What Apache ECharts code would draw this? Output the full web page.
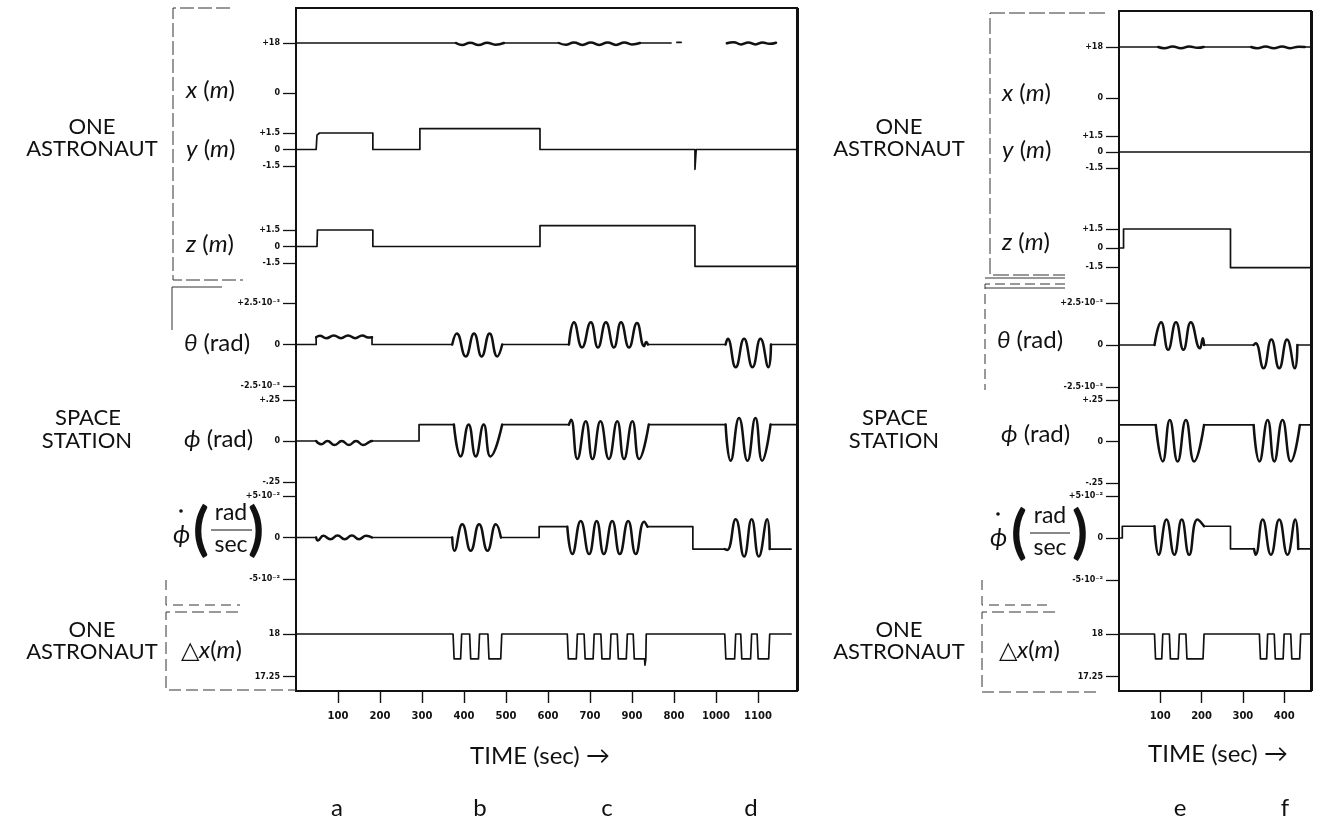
<!DOCTYPE html>
<html>
<head>
<meta charset="utf-8">
<title>Astronaut translation and space station response</title>
<script src="https://cdn.jsdelivr.net/npm/echarts@6.0.0/dist/echarts.min.js"></script>
<style>
  html, body { margin: 0; background: #fff; }
  #chart { width: 1328px; height: 828px; }
</style>
</head>
<body>
<div id="chart"></div>
<script>
// ---- time axes -------------------------------------------------------
const tMaxA = 1193;
const tMaxB = 465;
const xTicksA = [100, 200, 300, 400, 500, 600, 700, 800, 900, 1000, 1100];
const xTickLabelsA = ['100', '200', '300', '400', '500', '600', '700', '900', '800', '1000', '1100']; // as printed
const xTicksB = [100, 200, 300, 400];
const xTickLabelsB = ['100', '200', '300', '400'];

// ---- y tick values / labels (theta in 1e-3 rad, phi-dot in 1e-2 rad/s) ----
const posXTicks = [0, 18];            const posXLabels = ['0', '+18'];
const posYTicks = [-1.5, 0, 1.5];     const posYLabels = ['-1.5', '0', '+1.5'];
const posZTicks = [-1.5, 0, 1.5];     const posZLabels = ['-1.5', '0', '+1.5'];
const thetaTicks = [-2.5, 0, 2.5];    const thetaLabels = ['-2.5·10⁻³', '0', '+2.5·10⁻³'];
const phiTicks = [-0.25, 0, 0.25];    const phiLabels = ['-.25', '0', '+.25'];
const phiDotTicks = [-5, 0, 5];       const phiDotLabels = ['-5·10⁻²', '0', '+5·10⁻²'];
const dxTicks = [17.25, 18];          const dxLabels = ['17.25', '18'];

// ---- panel a-d : [time s, value] pieces; *Wave pieces are drawn smooth ----
const posXA = [[[0, 18], [381, 18]], [[495, 18], [626, 18]], [[819, 18], [893, 18]], [[907, 18.2], [917, 18.2]]];
const posXAWave = [
  [[381, 18], [395, 17.3], [415, 18.1], [435, 17.3], [455, 18.1], [475, 17.4], [495, 18]],
  [[626, 18], [642, 17.4], [662, 18.2], [682, 17.3], [702, 18.2], [722, 17.3], [742, 18.2], [762, 17.3], [782, 18.2], [800, 17.5], [819, 18]],
  [[1026, 17.9], [1042, 18.3], [1060, 17.5], [1077, 18.2], [1094, 17.5], [1111, 18.2], [1127, 17.7], [1143, 18.1]]
];
const posYA = [[[0, 0], [48, 0], [50, 1.3], [56, 1.5], [183, 1.5], [183, 0], [295, 0], [295, 1.9], [581, 1.9], [581, 0],
  [950, 0], [950, -1.8], [953, -1.8], [953, 0], [1193, 0]]];
const posZA = [[[0, 0], [50, 0], [51, 1.5], [183, 1.5], [183, 0], [581, 0], [581, 1.9], [950, 1.9], [950, -1.8], [1193, -1.8]]];

const thetaA = [[[0, 0], [48, 0], [48, 0.44]], [[181, 0.44], [181, 0], [372, 0]], [[491, 0], [650, 0]], [[838, 0], [1023, 0]], [[1131, 0], [1193, 0]]];
const thetaAWave = [
  [[48, 0.44], [57, 0.52], [72, 0.38], [90, 0.54], [107, 0.38], [124, 0.54], [141, 0.38], [158, 0.54], [172, 0.42], [181, 0.44]],
  [[372, 0], [383, 0.66], [404, -0.72], [424, 0.66], [442, -0.72], [461, 0.66], [479, -0.72], [491, 0]],
  [[650, 0], [662, 1.34], [681, -0.18], [702, 1.34], [719, -0.18], [738, 1.34], [757, -0.18], [774, 1.34], [793, -0.18], [812, 1.3], [829, -0.1], [834, 0.15], [838, 0]],
  [[1023, 0], [1028, 0.34], [1047, -1.37], [1067, 0.34], [1087, -1.37], [1106, 0.34], [1125, -1.37], [1131, 0]]
];

const phiA = [[[0, 0], [48, 0]], [[181, 0], [293, 0], [293, 0.1], [376, 0.1]], [[491, 0.1], [650, 0.1]], [[840, 0.1], [1023, 0.1]], [[1130, 0.1], [1193, 0.1]]];
const phiAWave = [
  [[48, 0], [60, -0.02], [75, 0], [92, -0.025], [109, 0], [126, -0.025], [143, 0], [160, -0.025], [175, -0.005], [181, 0]],
  [[376, 0.1], [392, -0.094], [411, 0.1], [428, -0.094], [447, 0.1], [463, -0.094], [491, 0.1]],
  [[650, 0.1], [655, 0.13], [670, -0.11], [690, 0.12], [706, -0.11], [725, 0.12], [745, -0.11], [765, 0.12], [781, -0.11], [801, 0.12], [817, -0.11], [840, 0.1]],
  [[1023, 0.1], [1035, -0.12], [1055, 0.14], [1075, -0.12], [1094, 0.14], [1110, -0.12], [1130, 0.1]]
];

const phiDotA = [[[0, 0], [48, 0]], [[181, 0], [372, 0]], [[488, 0], [579, 0], [579, 1.3], [646, 1.3]],
  [[837, 1.3], [945, 1.3], [945, -1.4], [1021, -1.4]], [[1128, -1.4], [1179, -1.4]]];
const phiDotAWave = [
  [[48, 0], [52, -0.35], [65, 0.2], [82, -0.2], [99, 0.25], [116, -0.2], [133, 0.25], [150, -0.2], [167, 0.2], [181, 0]],
  [[372, 0], [377, -1.6], [396, 1.6], [416, -1.6], [436, 1.6], [456, -1.6], [476, 1.6], [488, 0]],
  [[646, 1.3], [658, -2.0], [678, 2.0], [698, -2.0], [716, 2.0], [733, -2.0], [753, 2.0], [771, -2.0], [791, 2.0], [809, -2.0], [829, 1.9], [837, 1.3]],
  [[1021, -1.4], [1027, -1.5], [1047, 2.2], [1067, -2.3], [1085, 2.2], [1102, -2.3], [1122, 2.2], [1128, -1.4]]
];

const dxA = [[[0, 18], [374, 18], [376.5, 17.56], [392, 17.56], [394.5, 18], [413.5, 18], [416, 17.56], [434.5, 17.56], [437, 18],
  [457, 18], [459.5, 17.56], [487.5, 17.56], [490, 18], [646, 18], [648.5, 17.56], [667.5, 17.56], [670, 18],
  [686, 18], [688.5, 17.56], [707.5, 17.56], [710, 18], [726, 18], [728.5, 17.56], [747.5, 17.56], [750, 18],
  [765, 18], [767.5, 17.56], [786.5, 17.56], [789, 18], [803, 18], [805.5, 17.56], [830, 17.56], [831, 17.45], [833, 17.56], [834, 18],
  [1021, 18], [1023.5, 17.56], [1044.5, 17.56], [1047, 18], [1059, 18], [1061.5, 17.56], [1082.5, 17.56], [1085, 18],
  [1098, 18], [1100.5, 17.56], [1125.5, 17.56], [1128, 18], [1179, 18]]];

// ---- panel e-f ---------------------------------------------------------
const posXB = [[[0, 18], [95, 18]], [[205, 18], [320, 18]], [[450, 18], [465, 18]]];
const posXBWave = [
  [[95, 18], [110, 17.6], [130, 18.2], [150, 17.6], [170, 18.2], [190, 17.7], [205, 18]],
  [[320, 18], [335, 17.6], [355, 18.2], [375, 17.6], [395, 18.2], [415, 17.6], [435, 18.1], [450, 18]]
];
const posYB = [[[0, 0], [465, 0]]];
const posZB = [[[0, 0], [11, 0], [11, 1.5], [270, 1.5], [270, -1.55], [465, -1.55]]];

const thetaB = [[[0, 0], [86, 0]], [[206, 0], [326, 0]], [[432, 0], [465, 0]]];
const thetaBWave = [
  [[86, 0], [102, 1.36], [119, -0.28], [138, 1.36], [156, -0.28], [174, 1.36], [196, -0.2], [203, 0.4], [206, 0]],
  [[326, 0], [331, 0.1], [350, -1.39], [369, 0.32], [388, -1.39], [407, 0.32], [426, -1.39], [432, 0]]
];
const phiB = [[[0, 0.1], [89, 0.1]], [[206, 0.1], [326, 0.1]], [[438, 0.1], [465, 0.1]]];
const phiBWave = [
  [[89, 0.1], [106, -0.12], [123, 0.13], [142, -0.12], [162, 0.13], [182, -0.12], [206, 0.1]],
  [[326, 0.1], [340, -0.12], [360, 0.13], [376, -0.12], [396, 0.13], [416, -0.12], [438, 0.1]]
];
const phiDotB = [[[0, 0], [8, 0], [8, 1.4], [86, 1.4]], [[206, 1.4], [270, 1.4], [270, -1.3], [327, -1.3]], [[434, -1.3], [465, -1.3]]];
const phiDotBWave = [
  [[86, 1.4], [96, -2.0], [115, 2.2], [134, -2.0], [152, 2.2], [170, -2.0], [190, 2.2], [206, 1.4]],
  [[327, -1.3], [331, -2.0], [348, 2.2], [368, -2.0], [388, 2.2], [408, -2.0], [427, 2.2], [434, -1.3]]
];
const dxB = [[[0, 18], [86, 18], [88.5, 17.56], [103.5, 17.56], [106, 18], [122, 18], [124.5, 17.56], [143.5, 17.56], [146, 18],
  [162, 18], [164.5, 17.56], [203.5, 17.56], [206, 18], [340, 18], [342.5, 17.56], [357.5, 17.56], [360, 18],
  [376, 18], [378.5, 17.56], [397.5, 17.56], [400, 18], [416, 18], [418.5, 17.56], [437.5, 17.56], [440, 18], [465, 18]]];

// ---- layout ----------------------------------------------------------
const ink = '#111';
const labelFont = 'Lato, "Noto Sans", sans-serif';
const tickFont = '"DejaVu Sans", sans-serif';

const panels = [
  {
    frame: { left: 296, top: 8, width: 501, height: 683 }, tMax: tMaxA, xTicks: xTicksA, xLabels: xTickLabelsA,
    rows: [
      { top: 43, height: 50, ticks: posXTicks, labels: posXLabels, flat: posXA, wave: posXAWave },
      { top: 133, height: 33, ticks: posYTicks, labels: posYLabels, flat: posYA },
      { top: 230, height: 33, ticks: posZTicks, labels: posZLabels, flat: posZA },
      { top: 303, height: 83, ticks: thetaTicks, labels: thetaLabels, flat: thetaA, wave: thetaAWave },
      { top: 400, height: 82, ticks: phiTicks, labels: phiLabels, flat: phiA, wave: phiAWave },
      { top: 496, height: 83, ticks: phiDotTicks, labels: phiDotLabels, flat: phiDotA, wave: phiDotAWave },
      { top: 634, height: 42.5, ticks: dxTicks, labels: dxLabels, flat: dxA }
    ]
  },
  {
    frame: { left: 1119, top: 11, width: 192, height: 680 }, tMax: tMaxB, xTicks: xTicksB, xLabels: xTickLabelsB,
    rows: [
      { top: 47, height: 51, ticks: posXTicks, labels: posXLabels, flat: posXB, wave: posXBWave },
      { top: 136, height: 32, ticks: posYTicks, labels: posYLabels, flat: posYB },
      { top: 229, height: 38, ticks: posZTicks, labels: posZLabels, flat: posZB },
      { top: 303, height: 84, ticks: thetaTicks, labels: thetaLabels, flat: thetaB, wave: thetaBWave },
      { top: 400, height: 83, ticks: phiTicks, labels: phiLabels, flat: phiB, wave: phiBWave },
      { top: 496, height: 84, ticks: phiDotTicks, labels: phiDotLabels, flat: phiDotB, wave: phiDotBWave },
      { top: 634, height: 42.5, ticks: dxTicks, labels: dxLabels, flat: dxB }
    ]
  }
];

function lookup(ticks, labels, v) {
  const i = ticks.findIndex(t => Math.abs(t - v) < 1e-6);
  return i < 0 ? '' : labels[i];
}

function trace(gi, data, smooth, width) {
  return {
    type: 'line', xAxisIndex: gi, yAxisIndex: gi, data: data,
    smooth: smooth ? 0.5 : false, symbol: 'none', clip: false, silent: true,
    lineStyle: { color: ink, width: width, cap: 'round', join: 'round' }
  };
}

const grid = [], xAxis = [], yAxis = [], series = [];
panels.forEach(p => {
  const f = p.frame;
  const fi = grid.length;
  grid.push({ left: f.left, top: f.top, width: f.width, height: f.height, show: true, borderColor: ink, borderWidth: 2 });
  xAxis.push({
    gridIndex: fi, type: 'value', min: 0, max: p.tMax, interval: 100,
    axisLine: { show: false }, splitLine: { show: false },
    axisTick: { show: true, inside: false, length: 12, customValues: p.xTicks, lineStyle: { color: ink, width: 1.4 } },
    axisLabel: {
      customValues: p.xTicks, margin: 20, fontSize: 10, fontWeight: 'bold', fontFamily: tickFont, color: ink,
      formatter: v => lookup(p.xTicks, p.xLabels, v)
    }
  });
  yAxis.push({ gridIndex: fi, type: 'value', show: false, min: 0, max: 1 });

  p.rows.forEach(r => {
    const gi = grid.length;
    grid.push({ left: f.left, top: r.top, width: f.width, height: r.height, show: false });
    xAxis.push({ gridIndex: gi, type: 'value', min: 0, max: p.tMax, show: false });
    yAxis.push({
      gridIndex: gi, type: 'value',
      min: r.ticks[0], max: r.ticks[r.ticks.length - 1], interval: r.ticks[1] - r.ticks[0],
      axisLine: { show: false }, splitLine: { show: false },
      axisTick: { show: true, length: 13, customValues: r.ticks, lineStyle: { color: ink, width: 1.3 } },
      axisLabel: {
        customValues: r.ticks, margin: 16, fontSize: 8, fontWeight: 'bold', fontFamily: tickFont, color: ink,
        showMinLabel: true, showMaxLabel: true,
        formatter: v => lookup(r.ticks, r.labels, v)
      }
    });
    (r.flat || []).forEach(d => series.push(trace(gi, d, false, 1.7)));
    (r.wave || []).forEach(d => series.push(trace(gi, d, true, 2.5)));
  });
});

// ---- texts and bracket marks ------------------------------------------
const italic = { i: { fontStyle: 'italic', fontSize: 24, fontFamily: labelFont, fill: ink } };
function txt(x, y, text, size, align, extra) {
  return {
    type: 'text', x: x, y: y, silent: true,
    style: Object.assign({ text: text, fontSize: size, fontFamily: labelFont, fill: ink, align: align || 'left', verticalAlign: 'middle' }, extra || {})
  };
}
function rowText(x, y, text) { return txt(x, y, text, 24, 'left', { rich: italic }); }
function bracket(points, dash) {
  return { type: 'polyline', silent: true, shape: { points: points }, style: { stroke: '#333', lineWidth: 1, fill: null, lineDash: dash || null } };
}

const graphic = [];
// group names
[[0, 92], [807, 899]].forEach(([dx, cx]) => {
  graphic.push(txt(cx, 127, 'ONE', 22, 'center'), txt(cx, 149, 'ASTRONAUT', 22, 'center'));
  graphic.push(txt(cx - 4, 418, 'SPACE', 22, 'center'), txt(cx - 5, 441, 'STATION', 22, 'center'));
  graphic.push(txt(cx, 630, 'ONE', 22, 'center'), txt(cx, 652, 'ASTRONAUT', 22, 'center'));
});
// row names, left panel
graphic.push(rowText(186, 90, '{i|x} ({i|m})'), rowText(186, 149, '{i|y} ({i|m})'), rowText(186, 244, '{i|z} ({i|m})'));
graphic.push(rowText(184, 343, '{i|θ} (rad)'), rowText(184, 439, '{i|ϕ} (rad)'), rowText(181, 650, '△{i|x}({i|m})'));
// row names, right panel
graphic.push(rowText(1002, 93, '{i|x} ({i|m})'), rowText(1002, 150, '{i|y} ({i|m})'), rowText(1002, 242, '{i|z} ({i|m})'));
graphic.push(rowText(997, 340, '{i|θ} (rad)'), rowText(1001, 434, '{i|ϕ} (rad)'), rowText(999, 650, '△{i|x}({i|m})'));
// phi-dot (rad / sec)
[{ phi: 173, dot: 181, po: 201, frac: 231, f0: 211, f1: 252, pc: 256, y: 530 },
 { phi: 990, dot: 998, po: 1019, frac: 1050, f0: 1030, f1: 1070, pc: 1080, y: 533 }].forEach(g => {
  graphic.push(txt(g.phi, g.y + 5, 'ϕ', 25, 'left', { fontStyle: 'italic' }));
  graphic.push({ type: 'circle', silent: true, shape: { cx: g.dot, cy: g.y - 19, r: 1.8 }, style: { fill: ink } });
  graphic.push(txt(g.po, g.y, '(', 58, 'center', { fontWeight: 'bold' }));
  graphic.push(txt(g.pc, g.y, ')', 58, 'center', { fontWeight: 'bold' }));
  graphic.push(txt(g.frac, g.y - 17, 'rad', 23, 'center'), txt(g.frac, g.y + 15, 'sec', 23, 'center'));
  graphic.push({ type: 'line', silent: true, shape: { x1: g.f0, y1: g.y, x2: g.f1, y2: g.y }, style: { stroke: ink, lineWidth: 1 } });
});
// heavier right edges of both frames
graphic.push(
  { type: 'line', silent: true, shape: { x1: 797.5, y1: 8, x2: 797.5, y2: 691 }, style: { stroke: ink, lineWidth: 3 } },
  { type: 'line', silent: true, shape: { x1: 1311.5, y1: 11, x2: 1311.5, y2: 691 }, style: { stroke: ink, lineWidth: 3 } }
);
// axis titles and case letters
graphic.push(txt(540, 756, 'TIME (sec) →', 24, 'center'), txt(1218, 754, 'TIME (sec) →', 24, 'center'));
[['a', 337], ['b', 480], ['c', 607], ['d', 751], ['e', 1180], ['f', 1285]].forEach(([s, x]) => graphic.push(txt(x, 808, s, 24, 'center')));
// bracket marks beside the row names
graphic.push(
  bracket([[230, 8], [173, 8], [173, 280], [243, 280]], [14, 4]),
  bracket([[222, 287], [172, 287], [172, 330]]),
  bracket([[166, 580], [166, 605], [240, 605]], [10, 6]),
  bracket([[238, 612], [166, 612], [166, 690], [296, 690]], [12, 5]),
  bracket([[1105, 13], [990, 13], [990, 275], [1065, 275]], [16, 4]),
  bracket([[985, 278], [1065, 278]]),
  bracket([[1065, 284], [985, 284], [985, 390]], [10, 5]),
  bracket([[985, 288], [1065, 288]]),
  bracket([[982, 580], [982, 605], [1053, 605]], [10, 6]),
  bracket([[1055, 612], [982, 612], [982, 692], [1100, 692]], [12, 5])
);

const chart = echarts.init(document.getElementById('chart'));
chart.setOption({
  backgroundColor: '#fff',
  animation: false,
  grid: grid,
  xAxis: xAxis,
  yAxis: yAxis,
  series: series,
  graphic: graphic
});
</script>
</body>
</html>
